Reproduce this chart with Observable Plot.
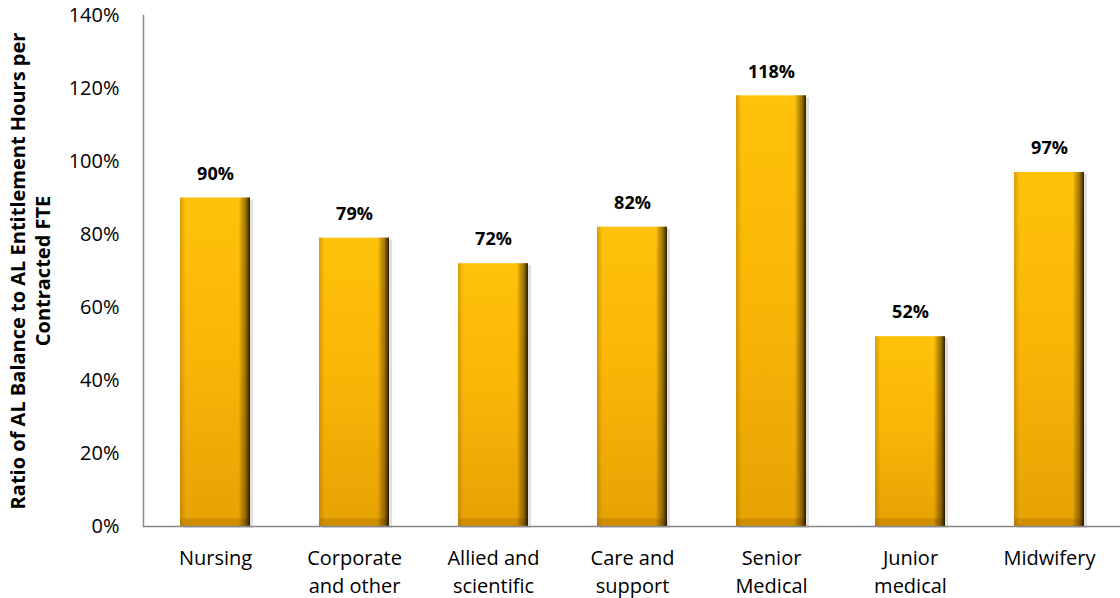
<!DOCTYPE html>
<html><head><meta charset="utf-8">
<script src="https://cdn.jsdelivr.net/npm/d3@7"></script>
<script src="https://cdn.jsdelivr.net/npm/@observablehq/plot@0.6"></script>
<style>
body{margin:0;background:#fff;}
#chart svg{display:block;}
</style></head>
<body>
<svg width="0" height="0" style="position:absolute">
<defs>
<linearGradient id="goldV" x1="0" y1="0" x2="0" y2="1">
<stop offset="0" stop-color="#FFC20A"/>
<stop offset="0.5" stop-color="#F9B506"/>
<stop offset="1" stop-color="#E6A203"/>
</linearGradient>
<linearGradient id="sideH" x1="0" y1="0" x2="1" y2="0">
<stop offset="0" stop-color="#8a5a00" stop-opacity="0.35"/>
<stop offset="0.08" stop-color="#8a5a00" stop-opacity="0"/>
<stop offset="0.84" stop-color="#000" stop-opacity="0"/>
<stop offset="0.93" stop-color="#3a2500" stop-opacity="0.45"/>
<stop offset="1" stop-color="#000" stop-opacity="0.85"/>
</linearGradient>
<linearGradient id="topBev" x1="0" y1="0" x2="0" y2="1">
<stop offset="0" stop-color="#FFE680"/>
<stop offset="1" stop-color="#FFC20A"/>
</linearGradient>
</defs>
</svg>
<div id="chart"></div>
<script>
const categories = ["Nursing", "Corporate\nand other", "Allied and\nscientific", "Care and\nsupport", "Senior\nMedical", "Junior\nmedical", "Midwifery"];
const values = [0.90, 0.79, 0.72, 0.82, 1.18, 0.52, 0.97];
const yTicks = [0, 0.2, 0.4, 0.6, 0.8, 1.0, 1.2, 1.4];
const yTitle = "Ratio of AL Balance to AL Entitlement Hours per\nContracted FTE";

const data = categories.map((c, i) => ({cat: c, v: values[i]}));
const font = "Open Sans, sans-serif";

const chart = Plot.plot({
  width: 1120,
  height: 598,
  marginLeft: 143,
  marginRight: 0,
  marginTop: 15,
  marginBottom: 72,
  style: {fontFamily: font, fontSize: "20px", color: "#000", background: "#fff"},
  x: {domain: categories, paddingInner: 0.5, paddingOuter: 0.25, label: null},
  y: {domain: [0, 1.4], label: null},
  marks: [
    Plot.barY(data, {x: "cat", y: "v", fill: "#000", fillOpacity: 0.12, dx: 3, dy: 2}),
    Plot.barY(data, {x: "cat", y: "v", fill: "url(#goldV)"}),
    Plot.tickY(data, {x: "cat", y: "v", stroke: "url(#topBev)", strokeWidth: 8, dy: 4}),
    Plot.tickY(data, {x: "cat", y: 0, stroke: "#C88A00", strokeOpacity: 0.8, strokeWidth: 8, dy: -4}),
    Plot.barY(data, {x: "cat", y: "v", fill: "url(#sideH)"}),
    Plot.frame({anchor: "left", stroke: "#888", strokeWidth: 1.5}),
    Plot.ruleY([0], {stroke: "#888", strokeWidth: 1.5}),
    Plot.axisY({ticks: yTicks, tickSize: 0, tickPadding: 24, tickFormat: d3.format(".0%"), fontSize: 20, label: null}),
    Plot.axisX({tickSize: 0, tickPadding: 19, fontSize: 20, lineHeight: 1.4, label: null}),
    Plot.text(data, {x: "cat", y: "v", text: d => d3.format(".0%")(d.v), dy: -24, fontWeight: "bold", fontSize: 18}),
    Plot.text([yTitle], {frameAnchor: "left", dx: -114, rotate: -90, textAnchor: "middle", fontWeight: "bold", fontSize: 20, lineHeight: 1.25, text: d => d})
  ]
});
document.getElementById("chart").append(chart);
</script>
</body></html>
